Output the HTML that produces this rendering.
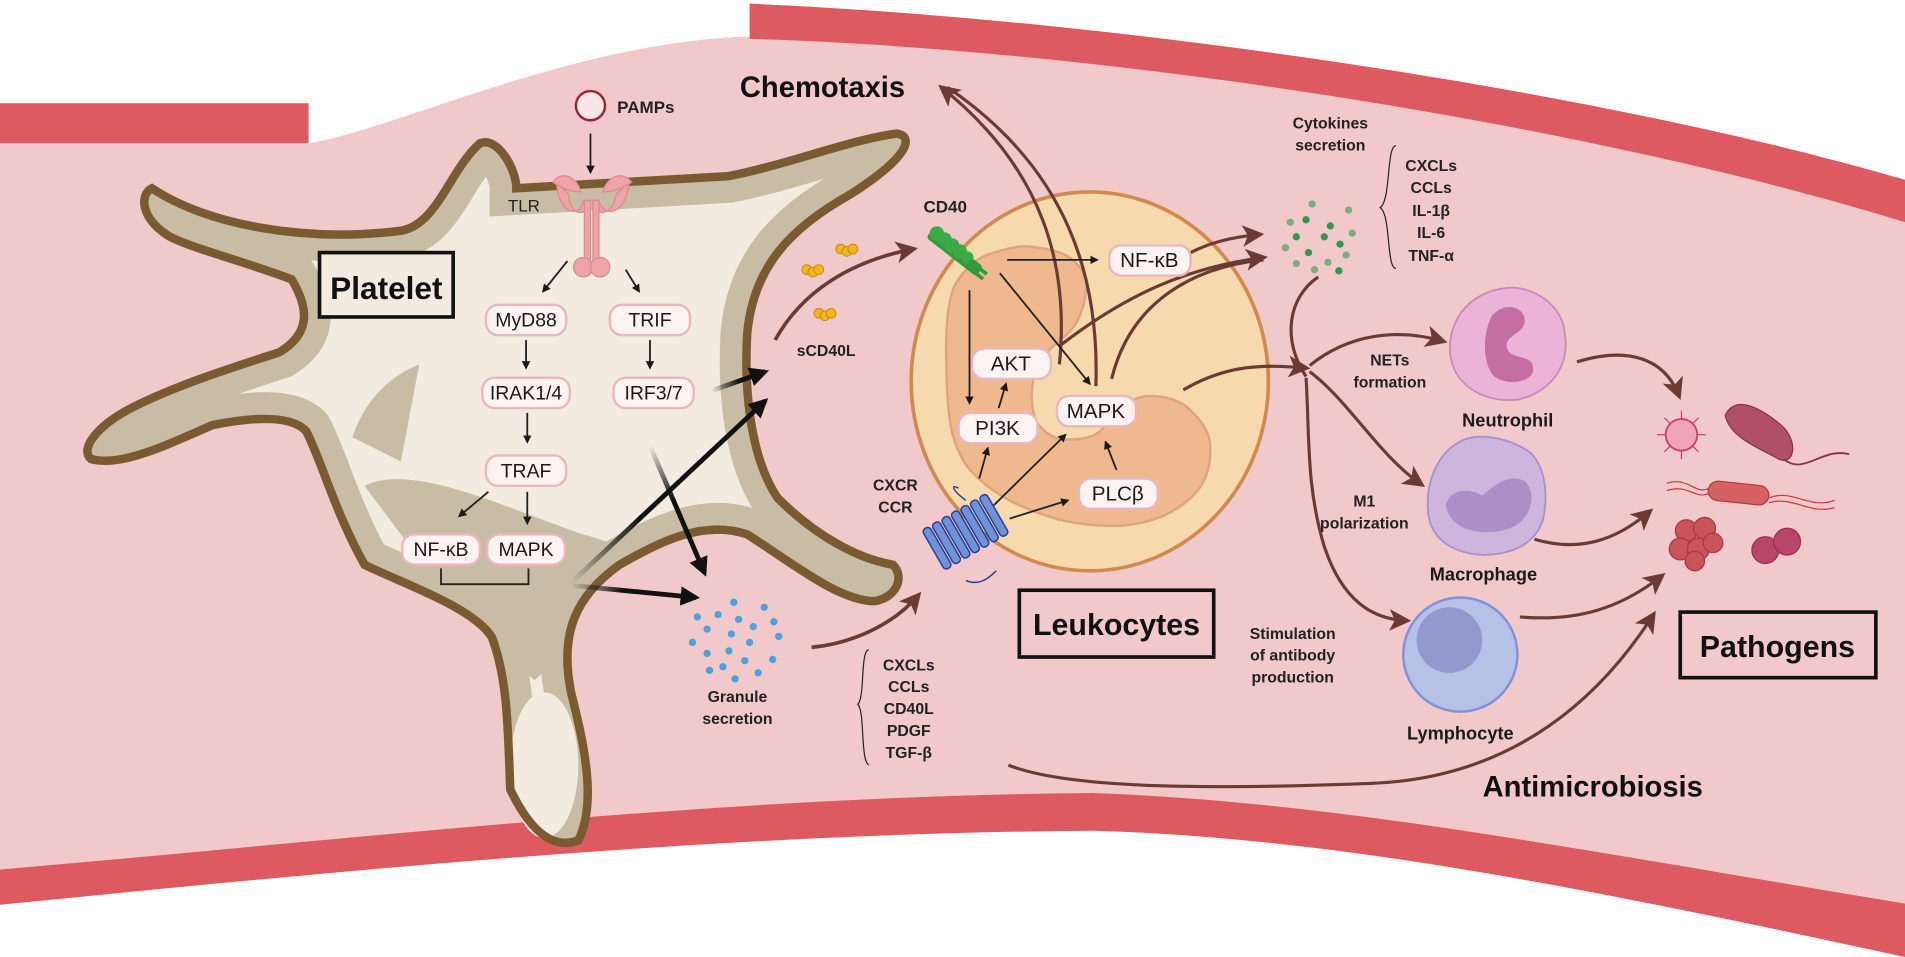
<!DOCTYPE html>
<html><head><meta charset="utf-8"><style>
html,body{margin:0;padding:0;background:#fff;overflow:hidden}
svg{display:block}
text{font-family:"Liberation Sans",sans-serif}
.b{font-weight:bold}
</style></head><body>
<svg width="1905" height="957" viewBox="0 0 1568 788" preserveAspectRatio="none" xmlns="http://www.w3.org/2000/svg">
<defs>
<marker id="ak" viewBox="0 0 10 10" refX="8" refY="5" markerWidth="7" markerHeight="7" orient="auto" markerUnits="userSpaceOnUse"><path d="M0,0 L10,5 L0,10 z" fill="#1a1a1a"/></marker>
<marker id="akb" viewBox="0 0 10 10" refX="8" refY="5" markerWidth="16" markerHeight="16" orient="auto" markerUnits="userSpaceOnUse"><path d="M0,0 L10,5 L0,10 z" fill="#111"/></marker>
<marker id="ab" viewBox="0 0 10 10" refX="8" refY="5" markerWidth="18" markerHeight="18" orient="auto" markerUnits="userSpaceOnUse"><path d="M0,0 L10,5 L0,10 L2.5,5 z" fill="#6b3a35"/></marker>
<clipPath id="pc"><path id="plt" d="M125,155 C170,185 250,200 330,190 C360,185 370,140 395,118 C410,112 425,140 425,155 C470,152 520,150 600,145 C650,135 700,115 738,110 C752,112 750,128 700,160 C650,188 620,220 615,275 C612,330 620,380 640,410 C670,440 705,460 735,465 C745,475 738,492 720,495 C690,495 650,462 615,440 C580,428 545,445 510,465 C475,490 460,520 470,570 C480,610 492,660 476,692 C460,698 440,692 420,650 C418,600 418,560 405,525 C390,500 330,480 300,465 C275,420 265,380 252,355 C240,342 210,343 175,350 C140,365 100,385 75,378 C65,370 80,350 110,335 C150,315 200,300 230,290 C255,275 255,255 240,230 C200,215 160,205 140,195 C115,180 115,160 125,155 Z"/></clipPath>
<linearGradient id="g1" gradientUnits="userSpaceOnUse" x1="585" y1="320" x2="630" y2="305"><stop offset="0" stop-color="#111" stop-opacity="0"/><stop offset="0.5" stop-color="#111"/></linearGradient>
<linearGradient id="g2" gradientUnits="userSpaceOnUse" x1="470" y1="480" x2="630" y2="330"><stop offset="0" stop-color="#111" stop-opacity="0"/><stop offset="0.35" stop-color="#111"/></linearGradient>
<linearGradient id="g3" gradientUnits="userSpaceOnUse" x1="470" y1="482" x2="576" y2="492"><stop offset="0" stop-color="#111" stop-opacity="0"/><stop offset="0.4" stop-color="#111"/></linearGradient>
<linearGradient id="g4" gradientUnits="userSpaceOnUse" x1="535" y1="367" x2="583" y2="478"><stop offset="0" stop-color="#111" stop-opacity="0"/><stop offset="0.4" stop-color="#111"/></linearGradient>
</defs>

<rect width="1568" height="788" fill="#fff"/>
<path d="M0,118 L254,118 C330,105 470,35 617,30 C900,40 1300,100 1568,183 L1568,760 C1300,700 1100,660 900,653 C600,655 300,690 0,716 Z" fill="#f2c9cb"/>
<path d="M0,85 L254,85 L254,118 L0,118 Z" fill="#dc5a60"/>
<path d="M617,3 C900,15 1300,70 1568,148 L1568,183 C1300,100 900,40 617,32 Z" fill="#dc5a60"/>
<path d="M0,716 C300,690 600,655 900,653 C1100,660 1300,700 1568,744 L1568,788 C1300,730 1100,690 900,684 C600,686 300,715 0,745 Z" fill="#dc5a60"/>

<!-- platelet -->
<use href="#plt" fill="#f3ebdf"/>
<g clip-path="url(#pc)">
<use href="#plt" fill="none" stroke="#c9bca4" stroke-width="44"/>
<path d="M300,400 C340,380 420,420 480,440 C520,450 540,470 510,500 L440,560 L390,520 Z" fill="#c9bca4"/>
<path d="M290,360 C300,330 320,310 345,300 L330,380 Z" fill="#c9bca4"/>
</g>
<ellipse cx="448" cy="630" rx="28" ry="60" fill="#f3ebdf"/>
<use href="#plt" fill="none" stroke="#7a5a30" stroke-width="7"/>

<rect x="263" y="208" width="110" height="53" fill="#f3ebdf" stroke="#111" stroke-width="3"/>
<text x="318" y="246" text-anchor="middle" class="b" font-size="26" fill="#111">Platelet</text>

<circle cx="486" cy="87" r="12" fill="#f9e6e6" stroke="#9b2335" stroke-width="2"/>
<text x="508" y="93" class="b" font-size="14" fill="#222">PAMPs</text>
<line x1="486" y1="110" x2="486" y2="142" stroke="#222" stroke-width="1.5" marker-end="url(#ak)"/>
<g fill="#eea3a8" stroke="#d98a90" stroke-width="1">
<path d="M458,150 C460,180 480,178 480,165 L485,165 C485,180 468,178 468,160 Z"/>
<path d="M518,150 C515,180 495,178 493,165 L488,165 C488,180 505,178 507,160 Z"/>
<path d="M455,150 C462,140 475,145 478,158 C470,158 462,155 455,150Z"/>
<path d="M520,150 C512,140 500,145 496,158 C505,158 512,155 520,150Z"/>
<rect x="481" y="165" width="5" height="50"/><rect x="488" y="165" width="5" height="50"/>
<ellipse cx="480" cy="220" rx="8" ry="8"/><ellipse cx="494" cy="220" rx="8" ry="8"/>
</g>
<text x="418" y="174" font-size="14" fill="#222">TLR</text>
<line x1="467" y1="215" x2="447" y2="240" stroke="#222" stroke-width="1.5" marker-end="url(#ak)"/>
<line x1="515" y1="222" x2="526" y2="240" stroke="#222" stroke-width="1.5" marker-end="url(#ak)"/>

<g font-size="16" fill="#1a1a1a" text-anchor="middle">
<rect x="400" y="251" width="66" height="25" rx="10" fill="#fdf3f2" stroke="#e8b8be" stroke-width="2"/><text x="433" y="269">MyD88</text>
<rect x="502" y="251" width="66" height="25" rx="10" fill="#fdf3f2" stroke="#e8b8be" stroke-width="2"/><text x="535" y="269">TRIF</text>
<rect x="397" y="311" width="72" height="25" rx="10" fill="#fdf3f2" stroke="#e8b8be" stroke-width="2"/><text x="433" y="329">IRAK1/4</text>
<rect x="505" y="311" width="66" height="25" rx="10" fill="#fdf3f2" stroke="#e8b8be" stroke-width="2"/><text x="538" y="329">IRF3/7</text>
<rect x="400" y="375" width="66" height="25" rx="10" fill="#fdf3f2" stroke="#e8b8be" stroke-width="2"/><text x="433" y="393">TRAF</text>
<rect x="331" y="440" width="64" height="25" rx="10" fill="#fdf3f2" stroke="#e8b8be" stroke-width="2"/><text x="363" y="458">NF-κB</text>
<rect x="401" y="440" width="64" height="25" rx="10" fill="#fdf3f2" stroke="#e8b8be" stroke-width="2"/><text x="433" y="458">MAPK</text>
</g>
<g stroke="#222" stroke-width="1.5" fill="none">
<line x1="433" y1="280" x2="433" y2="303" marker-end="url(#ak)"/>
<line x1="535" y1="280" x2="535" y2="303" marker-end="url(#ak)"/>
<line x1="434" y1="340" x2="434" y2="364" marker-end="url(#ak)"/>
<line x1="402" y1="405" x2="378" y2="425" marker-end="url(#ak)"/>
<line x1="434" y1="405" x2="434" y2="431" marker-end="url(#ak)"/>
<path d="M363,468 V481 H435 V468"/>
</g>

<line x1="585" y1="322" x2="630" y2="306" stroke="url(#g1)" stroke-width="4" marker-end="url(#akb)"/>
<line x1="470" y1="480" x2="630" y2="330" stroke="url(#g2)" stroke-width="4" marker-end="url(#akb)"/>
<line x1="470" y1="482" x2="573" y2="492" stroke="url(#g3)" stroke-width="4" marker-end="url(#akb)"/>
<line x1="535" y1="367" x2="580" y2="472" stroke="url(#g4)" stroke-width="4" marker-end="url(#akb)"/>

<g fill="#f2b51e" stroke="#c98a10" stroke-width="0.8">
<circle cx="664" cy="222" r="4"/><circle cx="669" cy="224" r="4"/><circle cx="674" cy="222" r="4"/>
<circle cx="692" cy="205" r="4"/><circle cx="697" cy="207" r="4"/><circle cx="702" cy="205" r="4"/>
<circle cx="674" cy="258" r="4"/><circle cx="679" cy="260" r="4"/><circle cx="684" cy="258" r="4"/>
</g>
<text x="680" y="293" text-anchor="middle" class="b" font-size="13" fill="#222">sCD40L</text>
<path d="M638,280 C660,240 700,215 752,205" stroke="#6b3a35" stroke-width="3" fill="none" marker-end="url(#ab)"/>

<g fill="#4aa3dc">
<circle cx="574" cy="508" r="3"/><circle cx="591" cy="506" r="3"/><circle cx="604" cy="496" r="3"/><circle cx="629" cy="500" r="3"/>
<circle cx="608" cy="510" r="3"/><circle cx="620" cy="516" r="3"/><circle cx="637" cy="512" r="3"/><circle cx="582" cy="518" r="3"/>
<circle cx="602" cy="522" r="3"/><circle cx="617" cy="529" r="3"/><circle cx="641" cy="524" r="3"/><circle cx="570" cy="529" r="3"/>
<circle cx="582" cy="538" r="3"/><circle cx="600" cy="536" r="3"/><circle cx="613" cy="544" r="3"/><circle cx="636" cy="543" r="3"/>
<circle cx="584" cy="552" r="3"/><circle cx="595" cy="549" r="3"/><circle cx="605" cy="559" r="3"/><circle cx="624" cy="554" r="3"/>
</g>
<text x="607" y="578" text-anchor="middle" class="b" font-size="13" fill="#222">Granule</text>
<text x="607" y="596" text-anchor="middle" class="b" font-size="13" fill="#222">secretion</text>
<path d="M715,535 C708,536 712,575 706,580 C712,585 708,625 715,630" stroke="#222" stroke-width="1" fill="none"/>
<g class="b" font-size="13" fill="#222" text-anchor="middle">
<text x="748" y="552">CXCLs</text><text x="748" y="570">CCLs</text><text x="748" y="588">CD40L</text><text x="748" y="606">PDGF</text><text x="748" y="624">TGF-β</text>
</g>
<path d="M668,533 C700,530 735,515 756,490" stroke="#6b3a35" stroke-width="3" fill="none" marker-end="url(#ab)"/>

<!-- leukocyte -->
<ellipse cx="897" cy="314" rx="147" ry="156" fill="#f6d9ad" stroke="#d08a4e" stroke-width="3"/>
<path d="M779,302 C778,270 780,245 787,233 C795,220 805,212 815,209 C830,204 840,202 848,203 C865,205 876,208 883,214 C892,222 896,230 894,239 C893,250 890,258 886,266 C879,276 870,282 864,288 C855,298 850,306 850,316 C848,330 850,345 856,351 C862,358 870,362 878,362 C890,362 898,360 903,357 C912,350 918,342 922,337 C930,330 938,326 946,326 C960,326 972,330 979,337 C990,347 995,357 996,365 C997,380 994,392 988,401 C980,412 968,420 957,425 C945,430 930,433 916,433 C900,433 885,431 872,428 C855,423 840,417 829,411 C815,403 804,394 796,384 C788,372 784,360 782,348 C780,333 779,318 779,302 Z" fill="#efb88f" stroke="#dea57c" stroke-width="2"/>

<g stroke="#6b3a35" stroke-width="2.6" fill="none">
<path d="M872,300 C880,220 860,140 775,72" marker-end="url(#ab)"/>
<path d="M902,318 C905,230 880,140 780,72"/>
<path d="M872,285 C930,240 980,220 1040,212" marker-end="url(#ab)"/>
<path d="M915,312 C930,250 980,220 1040,214"/>
<path d="M980,208 C995,200 1015,195 1037,193" marker-end="url(#ab)"/>
<path d="M974,321 C1010,300 1040,300 1075,303" marker-end="url(#ab)"/>
</g>
<text x="677" y="80" text-anchor="middle" class="b" font-size="24" fill="#111">Chemotaxis</text>

<text x="778" y="175" text-anchor="middle" class="b" font-size="14" fill="#222">CD40</text>
<g transform="rotate(38 785 207)">
<rect x="760" y="202" width="52" height="10" rx="3" fill="#2f9b3a"/>
<circle cx="765" cy="204" r="6" fill="#3aaa46"/><circle cx="773" cy="204" r="6" fill="#3aaa46"/><circle cx="781" cy="204" r="6" fill="#3aaa46"/><circle cx="789" cy="204" r="6" fill="#3aaa46"/><circle cx="797" cy="204" r="5" fill="#3aaa46"/>
<line x1="800" y1="205" x2="818" y2="205" stroke="#2f9b3a" stroke-width="3"/><line x1="800" y1="210" x2="818" y2="210" stroke="#2f9b3a" stroke-width="3"/>
</g>
<text x="737" y="404" text-anchor="middle" class="b" font-size="13" fill="#222">CXCR</text>
<text x="737" y="422" text-anchor="middle" class="b" font-size="13" fill="#222">CCR</text>
<g transform="rotate(-30 793 440)" fill="#6f93d8" stroke="#2a3c95" stroke-width="1.2">
<rect x="765" y="420" width="7" height="38" rx="3"/><rect x="774" y="420" width="7" height="38" rx="3"/><rect x="783" y="420" width="7" height="38" rx="3"/><rect x="792" y="420" width="7" height="38" rx="3"/><rect x="801" y="420" width="7" height="38" rx="3"/><rect x="810" y="420" width="7" height="38" rx="3"/><rect x="819" y="420" width="7" height="38" rx="3"/>
</g>
<path d="M789,402 C782,398 784,404 795,412" stroke="#2a3c95" stroke-width="1.2" fill="none"/>
<path d="M795,478 C805,482 812,478 820,470" stroke="#2a3c95" stroke-width="1.2" fill="none"/>

<g font-size="17" fill="#1a1a1a" text-anchor="middle">
<rect x="913" y="202" width="67" height="25" rx="10" fill="#fdf3f2" stroke="#e8b8be" stroke-width="2"/><text x="946" y="220">NF-κB</text>
<rect x="800" y="287" width="65" height="25" rx="10" fill="#fdf3f2" stroke="#e8b8be" stroke-width="2"/><text x="832" y="305">AKT</text>
<rect x="789" y="340" width="65" height="25" rx="10" fill="#fdf3f2" stroke="#e8b8be" stroke-width="2"/><text x="821" y="358">PI3K</text>
<rect x="870" y="326" width="65" height="25" rx="10" fill="#fdf3f2" stroke="#e8b8be" stroke-width="2"/><text x="902" y="344">MAPK</text>
<rect x="888" y="394" width="65" height="25" rx="10" fill="#fdf3f2" stroke="#e8b8be" stroke-width="2"/><text x="920" y="412">PLCβ</text>
</g>
<g stroke="#222" stroke-width="1.5" fill="none">
<line x1="829" y1="214" x2="903" y2="214" marker-end="url(#ak)"/>
<line x1="798" y1="239" x2="798" y2="332" marker-end="url(#ak)"/>
<line x1="823" y1="225" x2="897" y2="316" marker-end="url(#ak)"/>
<line x1="822" y1="336" x2="828" y2="316" marker-end="url(#ak)"/>
<line x1="806" y1="394" x2="813" y2="369" marker-end="url(#ak)"/>
<line x1="818" y1="416" x2="877" y2="358" marker-end="url(#ak)"/>
<line x1="831" y1="427" x2="879" y2="412" marker-end="url(#ak)"/>
<line x1="919" y1="387" x2="910" y2="364" marker-end="url(#ak)"/>
</g>

<rect x="839" y="486" width="160" height="55" fill="none" stroke="#111" stroke-width="3"/>
<text x="919" y="523" text-anchor="middle" class="b" font-size="25" fill="#111">Leukocytes</text>

<!-- cytokines -->
<text x="1095" y="106" text-anchor="middle" class="b" font-size="13" fill="#222">Cytokines</text>
<text x="1095" y="124" text-anchor="middle" class="b" font-size="13" fill="#222">secretion</text>
<g fill="#2e9a4e" transform="translate(5,-10)">
<circle cx="1075" cy="178" r="3" opacity="0.6"/><circle cx="1105" cy="183" r="3" opacity="0.6"/><circle cx="1057" cy="193" r="3" opacity="0.6"/>
<circle cx="1070" cy="191" r="3"/><circle cx="1090" cy="196" r="3"/><circle cx="1108" cy="202" r="3" opacity="0.6"/>
<circle cx="1062" cy="205" r="3"/><circle cx="1085" cy="205" r="3"/><circle cx="1098" cy="211" r="3"/><circle cx="1053" cy="214" r="3" opacity="0.6"/>
<circle cx="1072" cy="218" r="3"/><circle cx="1088" cy="226" r="3" opacity="0.6"/><circle cx="1103" cy="220" r="3" opacity="0.6"/>
<circle cx="1062" cy="227" r="3" opacity="0.6"/><circle cx="1077" cy="232" r="3" opacity="0.6"/><circle cx="1097" cy="233" r="3"/>
</g>
<path d="M1149,120 C1141,120 1145,165 1136,171 C1145,177 1141,221 1149,221" stroke="#222" stroke-width="1" fill="none"/>
<g class="b" font-size="13" fill="#222" text-anchor="middle">
<text x="1178" y="141">CXCLs</text><text x="1178" y="159">CCLs</text><text x="1178" y="178">IL-1β</text><text x="1178" y="196">IL-6</text><text x="1178" y="215">TNF-α</text>
</g>

<g stroke="#6b3a35" stroke-width="2.6" fill="none">
<path d="M1085,228 C1060,245 1055,280 1075,310"/>
<path d="M1078,301 C1110,275 1150,270 1188,281" marker-end="url(#ab)"/>
<path d="M1078,306 C1110,330 1135,375 1170,399" marker-end="url(#ab)"/>
<path d="M1075,311 C1078,360 1075,400 1090,450 C1105,495 1130,510 1158,511" marker-end="url(#ab)"/>
<path d="M1298,298 C1340,285 1370,295 1382,326" marker-end="url(#ab)"/>
<path d="M1263,444 C1300,455 1330,445 1358,421" marker-end="url(#ab)"/>
<path d="M1251,508 C1300,512 1335,500 1368,474" marker-end="url(#ab)"/>
<path d="M830,630 C880,650 1000,650 1130,645 C1250,640 1320,570 1361,506" marker-end="url(#ab)"/>
</g>

<text x="1144" y="301" text-anchor="middle" class="b" font-size="13" fill="#222">NETs</text>
<text x="1144" y="319" text-anchor="middle" class="b" font-size="13" fill="#222">formation</text>
<text x="1123" y="417" text-anchor="middle" class="b" font-size="13" fill="#222">M1</text>
<text x="1123" y="435" text-anchor="middle" class="b" font-size="13" fill="#222">polarization</text>
<text x="1064" y="526" text-anchor="middle" class="b" font-size="13" fill="#222">Stimulation</text>
<text x="1064" y="544" text-anchor="middle" class="b" font-size="13" fill="#222">of antibody</text>
<text x="1064" y="562" text-anchor="middle" class="b" font-size="13" fill="#222">production</text>

<!-- neutrophil -->
<path d="M1241,237 C1262,235 1287,252 1288,275 C1292,300 1278,322 1250,329 C1222,332 1198,318 1194,294 C1190,266 1208,240 1241,237 Z" fill="#ecb3d8" stroke="#c98ab8" stroke-width="1.5"/>
<path d="M1228,260 C1238,248 1255,252 1255,264 C1255,275 1240,275 1240,285 C1242,298 1262,290 1262,304 C1262,315 1240,318 1230,310 C1220,300 1220,275 1228,260 Z" fill="#c56ea6"/>
<text x="1241" y="351" text-anchor="middle" class="b" font-size="15" fill="#1a1a1a">Neutrophil</text>
<!-- macrophage -->
<path d="M1205,362 C1222,356 1245,362 1260,373 C1273,386 1274,410 1270,428 C1264,446 1248,456 1222,457 C1198,456 1180,446 1176,426 C1172,400 1182,372 1205,362 Z" fill="#cdb5dd" stroke="#a791cb" stroke-width="1.5"/>
<path d="M1190,415 C1195,402 1210,402 1220,408 C1228,402 1240,389 1255,396 C1265,406 1262,429 1240,436 C1218,442 1192,436 1190,415 Z" fill="#ac8fc6"/>
<text x="1221" y="478" text-anchor="middle" class="b" font-size="15" fill="#1a1a1a">Macrophage</text>
<!-- lymphocyte -->
<circle cx="1202" cy="539" r="47" fill="#b6c1e8" stroke="#7f92d8" stroke-width="2"/>
<circle cx="1193" cy="527" r="27" fill="#9399cf"/>
<text x="1202" y="609" text-anchor="middle" class="b" font-size="15" fill="#1a1a1a">Lymphocyte</text>

<!-- pathogens -->
<g stroke="#c9406a" stroke-width="1"><line x1="1384" y1="338" x2="1384" y2="378"/><line x1="1364" y1="358" x2="1404" y2="358"/><line x1="1370" y1="344" x2="1398" y2="372"/><line x1="1398" y1="344" x2="1370" y2="372"/></g>
<circle cx="1384" cy="358" r="13" fill="#f0a4b8" stroke="#c9406a" stroke-width="1.5"/>
<path d="M1420,342 C1428,325 1448,335 1466,350 C1480,362 1478,384 1464,378 C1446,368 1424,360 1420,342 Z" fill="#b05065" stroke="#8a3048" stroke-width="1"/>
<path d="M1468,378 C1485,392 1500,368 1522,374" stroke="#8a3048" stroke-width="1.5" fill="none"/>
<rect x="1406" y="398" width="50" height="16" rx="8" fill="#d66062" stroke="#b03a3e" stroke-width="1" transform="rotate(6 1431 406)"/>
<path d="M1372,398 C1390,392 1395,408 1407,402 M1372,404 C1390,398 1395,412 1407,406 M1456,410 C1475,402 1490,420 1510,412 M1456,414 C1475,408 1490,424 1510,418" stroke="#c83a40" stroke-width="1" fill="none"/>
<g fill="#c9545a" stroke="#a33a40" stroke-width="1">
<circle cx="1388" cy="437" r="9"/><circle cx="1403" cy="435" r="9"/><circle cx="1383" cy="452" r="9"/><circle cx="1398" cy="452" r="9"/><circle cx="1410" cy="447" r="8"/><circle cx="1395" cy="462" r="8"/>
</g>
<circle cx="1453" cy="453" r="11" fill="#b8456a" stroke="#962e55"/>
<circle cx="1471" cy="446" r="11" fill="#b8456a" stroke="#962e55"/>

<rect x="1383" y="504" width="161" height="54" fill="none" stroke="#111" stroke-width="3"/>
<text x="1463" y="541" text-anchor="middle" class="b" font-size="25" fill="#111">Pathogens</text>

<text x="1311" y="656" text-anchor="middle" class="b" font-size="24" fill="#111">Antimicrobiosis</text>
</svg>
</body></html>
